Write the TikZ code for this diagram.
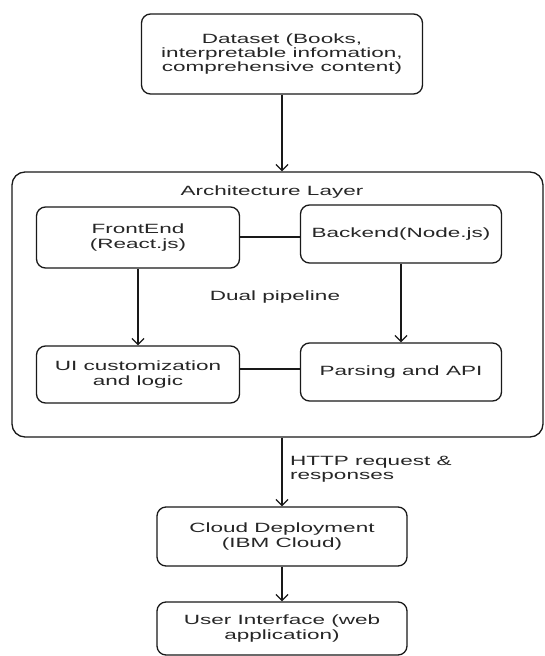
\documentclass[tikz,border=0pt]{standalone}
\usepackage{fontspec}
\setmainfont{Liberation Sans}[FakeStretch=1.68]
\usetikzlibrary{arrows.meta}

\tikzset{
  block/.style={draw=black!90, line width=1.3pt, rounded corners=9pt, inner sep=0pt,
    align=center, text=black!85, font=\fontsize{13.4}{14.2}\selectfont},
  label/.style={inner sep=0pt, text=black!85, font=\fontsize{13.4}{14.2}\selectfont},
  flow/.style={-{Straight Barb[length=6pt,width=12pt,line width=1.3pt]}, draw=black!90, line width=1.3pt},
}

\begin{document}
\begin{tikzpicture}[x=1pt,y={(0pt,-1pt)}]
\useasboundingbox (0,0) rectangle (545,656);
%Nodes
\node[block, minimum width=281, minimum height=80] (nodeDataset) at (282,54) {Dataset (Books,\\interpretable infomation,\\comprehensive content)};

\node[block, rounded corners=13pt, minimum width=531, minimum height=265] (nodeArch) at (277.5,304.5) {};
\node[label] (nodeArchTitle) at (272,192) {Architecture Layer};

\node[block, minimum width=203, minimum height=61] (nodeFrontEnd) at (138,237.5) {FrontEnd\\(React.js)};
\node[block, minimum width=201, minimum height=58] (nodeBackend) at (401,234) {Backend(Node.js)};

\node[label] (nodeDual) at (275,297) {Dual pipeline};

\node[block, minimum width=203, minimum height=57] (nodeUI) at (138,374.5) {UI customization\\and logic};
\node[block, minimum width=201, minimum height=58] (nodeParsing) at (401,372) {Parsing and API};

\node[block, minimum width=250, minimum height=59] (nodeCloud) at (282,536.5) {Cloud Deployment\\(IBM Cloud)};

\node[block, minimum width=250, minimum height=53] (nodeUser) at (282,628.5) {User Interface (web\\application)};

\node[label, anchor=west, align=left] (nodeHttp) at (290,469.5) {HTTP request \&\\responses};

%Lines
\draw[flow] (nodeDataset.south) -- (nodeDataset.south |- nodeArch.north);

\draw[line width=1.3pt, draw=black!90] (nodeFrontEnd.east |- 0,237) -- (nodeBackend.west |- 0,237);
\draw[line width=1.3pt, draw=black!90] (nodeUI.east |- 0,369) -- (nodeParsing.west |- 0,369);

\draw[flow] (nodeFrontEnd.south) -- (nodeUI.north);
\draw[flow] (nodeBackend.south) -- (nodeParsing.north);

\draw[flow] (nodeArch.south -| nodeCloud.north) -- (nodeCloud.north);
\draw[flow] (nodeCloud.south) -- (nodeUser.north);
\end{tikzpicture}
\end{document}
